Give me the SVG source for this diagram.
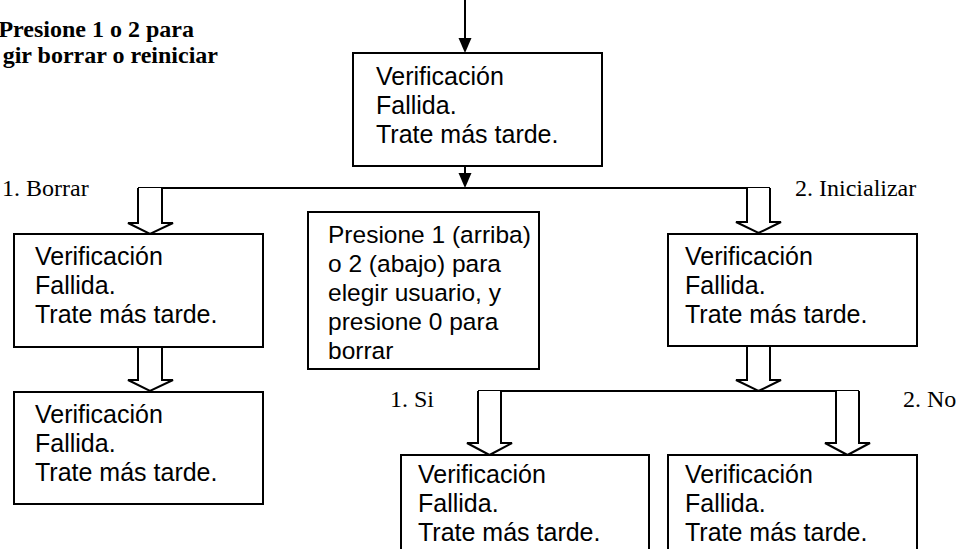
<svg xmlns="http://www.w3.org/2000/svg" width="958" height="549" viewBox="0 0 958 549">
<style>
.box{fill:#fff;stroke:#000;stroke-width:2}
.t{font-family:"Liberation Sans",Arial,sans-serif;font-size:25px;fill:#000}
.tc{font-family:"Liberation Sans",Arial,sans-serif;font-size:24.5px;fill:#000}
.lbl{font-family:"Liberation Serif","Times New Roman",serif;font-size:24px;fill:#000}
.ttl{font-family:"Liberation Serif","Times New Roman",serif;font-size:24px;font-weight:bold;fill:#000}
.ln{fill:none;stroke:#000;stroke-width:2}
.ha{fill:#fff;stroke:#000;stroke-width:2;stroke-linejoin:miter}
</style>
<g id="title">
<text class="ttl" x="194" y="37" text-anchor="end">Presione 1 o 2 para</text>
<text class="ttl" x="218" y="63" text-anchor="end">gir borrar o reiniciar</text>
</g>
<g id="connectors">
<line class="ln" x1="465" y1="0" x2="465" y2="38"/>
<path d="M458.5,38 L471.5,38 L465,53 Z" fill="#000"/>
<line class="ln" x1="465" y1="166" x2="465" y2="173"/>
<path d="M458.5,173 L471.5,173 L465,188 Z" fill="#000"/>
<line class="ln" x1="138" y1="188" x2="770" y2="188"/>
<polyline class="ha" points="138,188 138,223 128,223 150,234 173,223 162,223 162,188"/>
<polyline class="ha" points="747,188 747,222 736,222 758.5,233 781,222 770,222 770,188"/>
<polyline class="ha" points="138,347 138,380 128,380 150,391 173,380 162,380 162,347"/>
<polyline class="ha" points="747,346 747,380 736,380 758.5,391 781,380 770,380 770,346"/>
<line class="ln" x1="478" y1="391" x2="859" y2="391"/>
<polyline class="ha" points="478,391 478,443 467,443 489.5,455 512,443 501,443 501,391"/>
<polyline class="ha" points="836,391 836,443 825,443 847.5,455 870,443 859,443 859,391"/>
</g>
<g id="lbl-borrar"><text class="lbl" x="2" y="196">1. Borrar</text></g>
<g id="lbl-inicializar"><text class="lbl" x="795" y="196">2. Inicializar</text></g>
<g id="lbl-si"><text class="lbl" x="390" y="407">1. Si</text></g>
<g id="lbl-no"><text class="lbl" x="903" y="407">2. No</text></g>
<g id="n-top">
<rect class="box" x="353" y="53" width="249" height="113"/>
<text class="t" x="376" y="85">Verificación</text>
<text class="t" x="376" y="114">Fallida.</text>
<text class="t" x="376" y="143">Trate más tarde.</text>
</g>
<g id="n-left1">
<rect class="box" x="14" y="234" width="249" height="113"/>
<text class="t" x="35" y="265">Verificación</text>
<text class="t" x="35" y="294">Fallida.</text>
<text class="t" x="35" y="323">Trate más tarde.</text>
</g>
<g id="n-center">
<rect class="box" x="308" y="212" width="231" height="157"/>
<text class="tc" x="328" y="243">Presione 1 (arriba)</text>
<text class="tc" x="328" y="272">o 2 (abajo) para</text>
<text class="tc" x="328" y="301">elegir usuario, y</text>
<text class="tc" x="328" y="330">presione 0 para</text>
<text class="tc" x="328" y="359">borrar</text>
</g>
<g id="n-right1">
<rect class="box" x="668" y="234" width="249" height="112"/>
<text class="t" x="685" y="265">Verificación</text>
<text class="t" x="685" y="294">Fallida.</text>
<text class="t" x="685" y="323">Trate más tarde.</text>
</g>
<g id="n-left2">
<rect class="box" x="14" y="392" width="249" height="112"/>
<text class="t" x="35" y="423">Verificación</text>
<text class="t" x="35" y="452">Fallida.</text>
<text class="t" x="35" y="481">Trate más tarde.</text>
</g>
<g id="n-si">
<rect class="box" x="401" y="455" width="248" height="110"/>
<text class="t" x="418" y="483">Verificación</text>
<text class="t" x="418" y="512">Fallida.</text>
<text class="t" x="418" y="541">Trate más tarde.</text>
</g>
<g id="n-no">
<rect class="box" x="668" y="455" width="249" height="110"/>
<text class="t" x="685" y="483">Verificación</text>
<text class="t" x="685" y="512">Fallida.</text>
<text class="t" x="685" y="541">Trate más tarde.</text>
</g>
</svg>
